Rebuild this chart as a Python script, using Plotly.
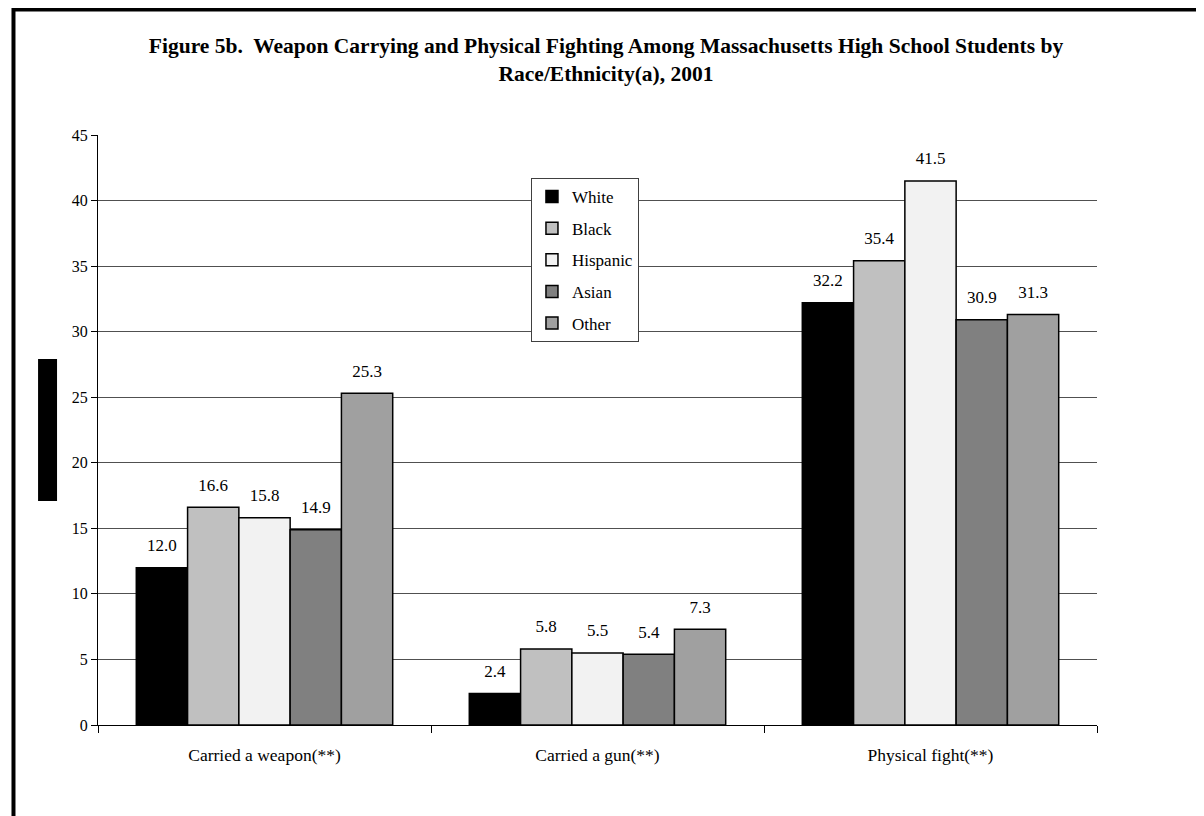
"""Weapon carrying and physical fighting by race/ethnicity, 2001."""
import plotly.graph_objects as go

CATEGORIES = ['Carried a weapon(**)', 'Carried a gun(**)', 'Physical fight(**)']
GROUPS = ['White', 'Black', 'Hispanic', 'Asian', 'Other']
WHITE = [12.0, 2.4, 32.2]
BLACK = [16.6, 5.8, 35.4]
HISPANIC = [15.8, 5.5, 41.5]
ASIAN = [14.9, 5.4, 30.9]
OTHER = [25.3, 7.3, 31.3]
Y_TICKS = [0, 5, 10, 15, 20, 25, 30, 35, 40, 45]

COLORS = ['#000000', '#C0C0C0', '#F2F2F2', '#808080', '#A0A0A0']
FONT = 'Liberation Serif'
GAP = 0.23

fig = go.Figure()
for name, values, color in zip(GROUPS, [WHITE, BLACK, HISPANIC, ASIAN, OTHER], COLORS):
    fig.add_trace(go.Bar(
        x=CATEGORIES,
        y=values,
        name=name,
        legendgroup=name,
        offsetgroup=name,
        marker=dict(color=color, line=dict(color='#000000', width=1.5)),
        hovertemplate='%{x}<br>' + name + ': %{y:.1f}<extra></extra>',
    ))

# value labels, lifted a little above each bar like the original
for name, values in zip(GROUPS, [WHITE, BLACK, HISPANIC, ASIAN, OTHER]):
    fig.add_trace(go.Scatter(
        x=CATEGORIES,
        y=values,
        mode='markers+text',
        offsetgroup=name,
        showlegend=False,
        hoverinfo='skip',
        marker=dict(size=18, color='rgba(0,0,0,0)'),
        text=[f'{v:.1f}' for v in values],
        textposition='top center',
        textfont=dict(family=FONT, size=17, color='#000000'),
        cliponaxis=False,
    ))

# page frame (cropped scan: only top and left edges show)
fig.add_shape(type='rect', xref='paper', yref='paper',
              x0=-0.0846, x1=1.2, y0=-0.3, y1=1.2127,
              line=dict(color='#000000', width=4), fillcolor='rgba(0,0,0,0)', layer='below')
# blacked-out y axis title
fig.add_shape(type='rect', xref='paper', yref='paper',
              x0=-0.060, x1=-0.041, y0=0.3797, y1=0.6203,
              line=dict(width=0), fillcolor='#000000')

fig.update_layout(
    width=1196, height=808,
    title=dict(
        text='Figure 5b.  Weapon Carrying and Physical Fighting Among Massachusetts High School Students by<br>Race/Ethnicity(a), 2001',
        x=0.5, xanchor='center', y=0.944, yanchor='middle',
        font=dict(family=FONT, size=21.5, color='#000000', weight='bold'),
    ),
    font=dict(family=FONT, size=17, color='#000000'),
    barmode='group',
    bargap=GAP,
    bargroupgap=0,
    scattermode='group',
    scattergap=GAP,
    margin=dict(l=90, r=107, t=127, b=91),
    plot_bgcolor='#ffffff',
    paper_bgcolor='#ffffff',
    showlegend=True,
    legend=dict(
        x=0.4334, y=0.927, xanchor='left', yanchor='top',
        bgcolor='#ffffff', bordercolor='#404040', borderwidth=1,
        traceorder='grouped', tracegroupgap=6.5,
        font=dict(family=FONT, size=17, color='#000000'),
        itemwidth=30,
        entrywidth=90,
    ),
    xaxis=dict(
        showline=True, linecolor='#000000', linewidth=1,
        ticks='outside', ticklen=7, tickcolor='#000000', tickson='boundaries',
        ticklabelstandoff=14,
        tickfont=dict(family=FONT, size=17.5),
        showgrid=False,
    ),
    yaxis=dict(
        range=[0, 45], tickvals=Y_TICKS,
        showline=True, linecolor='#000000', linewidth=1,
        ticks='outside', ticklen=6, tickcolor='#000000',
        tickfont=dict(family=FONT, size=16),
        showgrid=True, gridcolor='#505050', gridwidth=1,
        zeroline=False,
    ),
)

fig.write_html('out.html')
